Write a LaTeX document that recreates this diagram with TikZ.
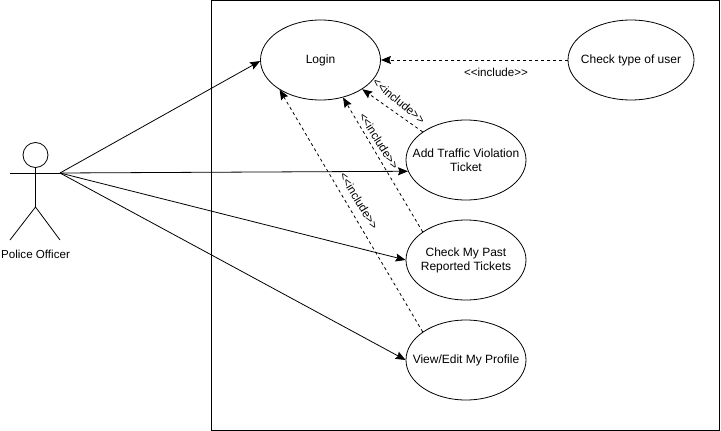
\documentclass[tikz,border=0pt]{standalone}
\usepackage{fontspec}
\setmainfont{Liberation Sans}
\usetikzlibrary{arrows.meta,positioning,shapes.geometric}
\tikzset{
  usecase/.style={draw,ellipse,inner sep=-30pt,minimum width=120pt,minimum height=80pt,align=center,font=\fontsize{12}{14}\selectfont},
  inclabel/.style={font=\fontsize{11.6}{14}\selectfont,inner sep=0pt},
  includes/.style={draw,dashed,-{Stealth[inset=1.5pt,length=10pt,width=8pt]}},
  assoc/.style={draw,-{Stealth[inset=1.5pt,length=10pt,width=8pt]}}
}
\begin{document}
\begin{tikzpicture}[x=1pt,y=-1pt,auto,line width=0.8pt]
  \useasboundingbox (0,0) rectangle (721,431);
  \node (system) [draw,minimum width=508pt,minimum height=430pt,inner sep=0pt] at (465,215) {};
  % use cases
  \node (login) [usecase] at (320.5,60) {Login};
  \node (usertype) [usecase,minimum width=126pt] at (631,60) {Check type of user};
  \node (addticket) [usecase] at (466,160) {Add Traffic Violation\\Ticket};
  \node (pasttickets) [usecase] at (466,260) {Check My Past\\Reported Tickets};
  \node (profile) [usecase] at (466,360) {View/Edit My Profile};
  % actor
  \node (head) [draw,circle,minimum size=25pt,inner sep=0pt] at (35.5,155) {};
  \coordinate (hip) at (35.5,207);
  \coordinate (leftarm) at (10,173);
  \coordinate (hand) at (60,173);
  \coordinate (leftfoot) at (10,240);
  \coordinate (rightfoot) at (60,240);
  \node (officer) [inclabel] at (35.5,254) {Police Officer};
  \draw (head) -- (hip);
  \draw (leftarm) -- (hand);
  \draw (leftfoot) -- (hip) -- (rightfoot);
  % associations
  \draw[assoc] (hand) -- (login.181);
  \draw[assoc] (hand) -- (addticket.191);
  \draw[assoc] (hand) -- (pasttickets.west);
  \draw[assoc] (hand) -- (profile.west);
  % includes
  \draw[includes] (usertype) -- (login);
  \draw[includes] (addticket.147) -- (login.-35);
  \draw[includes] (pasttickets.147) -- (login.-59);
  \draw[includes] (profile.147) -- (login.216);
  \node (inc1) [inclabel] at (496,72) {<{}<include>{}>};
  \node (inc2) [inclabel,rotate=-40] at (399,101) {<{}<include>{}>};
  \node (inc3) [inclabel,rotate=-58] at (379,141) {<{}<include>{}>};
  \node (inc4) [inclabel,rotate=-59] at (359,201) {<{}<include>{}>};
\end{tikzpicture}
\end{document}
